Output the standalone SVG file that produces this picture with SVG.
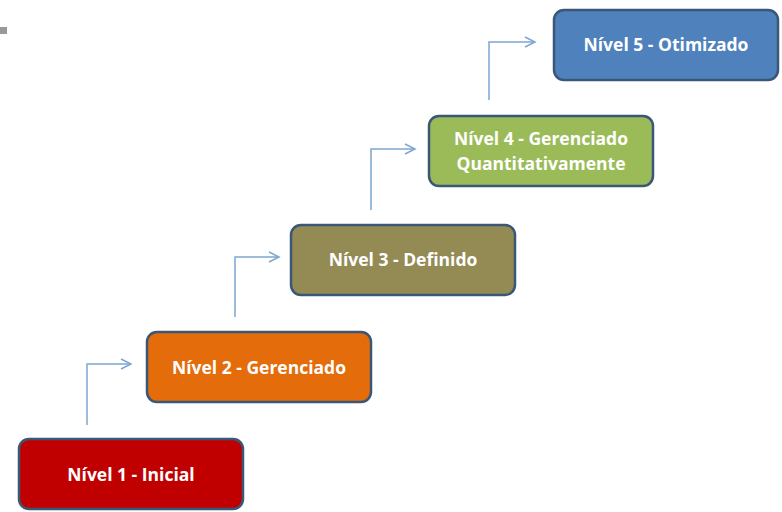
<svg xmlns="http://www.w3.org/2000/svg" width="782" height="512" viewBox="0 0 782 512">
<style>
.box{stroke:#3A5778;stroke-width:2.5}
.t{font-family:"Open Sans","Liberation Sans",sans-serif;font-weight:bold;font-size:17.5px;fill:#fff;text-anchor:middle}
.c{fill:none;stroke:#7EA6D0;stroke-width:1.5}
</style>
<defs>
<marker id="ah" markerWidth="14" markerHeight="14" refX="11" refY="6" orient="auto" markerUnits="userSpaceOnUse">
<path d="M1,1 L11,6 L1,11" fill="none" stroke="#7EA6D0" stroke-width="1.5"/>
</marker>
</defs>
<rect width="782" height="512" fill="#fff"/>
<rect x="0" y="27" width="7" height="7" fill="#999"/>
<g id="connectors">
<path class="c" d="M87,425 V364 H131" marker-end="url(#ah)"/>
<path class="c" d="M235,317 V257 H279" marker-end="url(#ah)"/>
<path class="c" d="M371,210 V149 H415" marker-end="url(#ah)"/>
<path class="c" d="M489,100 V42 H535" marker-end="url(#ah)"/>
</g>
<g id="n1"><rect class="box" x="19" y="439" width="224" height="70" rx="10" fill="#C00000"/><text class="t" x="131" y="481">Nível 1 - Inicial</text></g>
<g id="n2"><rect class="box" x="147" y="332" width="224" height="70" rx="10" fill="#E46C0A"/><text class="t" x="259" y="374">Nível 2 - Gerenciado</text></g>
<g id="n3"><rect class="box" x="291" y="225" width="224" height="70" rx="10" fill="#948A54"/><text class="t" x="403" y="266">Nível 3 - Definido</text></g>
<g id="n4"><rect class="box" x="429" y="116" width="224" height="70" rx="10" fill="#9BBB59"/><text class="t" x="541" y="145">Nível 4 - Gerenciado</text><text class="t" x="541" y="170">Quantitativamente</text></g>
<g id="n5"><rect class="box" x="554" y="10" width="224" height="70" rx="10" fill="#4F81BD"/><text class="t" x="666" y="51">Nível 5 - Otimizado</text></g>
</svg>
